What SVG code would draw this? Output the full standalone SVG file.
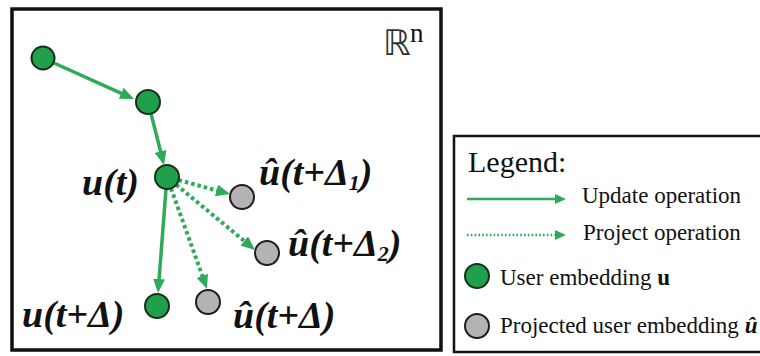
<svg xmlns="http://www.w3.org/2000/svg" width="760" height="356" viewBox="0 0 760 356">
<style>
.frame{fill:#fff;stroke:#111;stroke-width:3.5}
.lframe{fill:#fff;stroke:#111;stroke-width:2.5}
.g{fill:#21a04c;stroke:#15301c;stroke-width:2}
.p{fill:#b3b3b3;stroke:#1e1e1e;stroke-width:2}
.up{fill:none;stroke:#2dab5b;stroke-width:3.5}
.pr{fill:none;stroke:#2dab5b;stroke-width:4;stroke-dasharray:3.5 3}
.lup{fill:none;stroke:#2dab5b;stroke-width:2.5}
.lpr{fill:none;stroke:#2dab5b;stroke-width:2.5;stroke-dasharray:1.6 2.2}
.lab{font-family:"Liberation Serif",serif;font-weight:bold;font-style:italic;font-size:38px;fill:#111}
.sub{font-size:22px}
.leg{font-family:"Liberation Serif",serif;font-size:23px;fill:#111}
.title{font-size:30px}
</style>
<defs>
<marker id="ah" markerUnits="userSpaceOnUse" markerWidth="14" markerHeight="12" refX="5" refY="6" orient="auto" viewBox="0 0 14 12"><path d="M0,0 L14,6 L0,12 z" fill="#2dab5b"/></marker>
<marker id="ahs" markerUnits="userSpaceOnUse" markerWidth="11" markerHeight="10" refX="4" refY="5" orient="auto" viewBox="0 0 11 10"><path d="M0,0 L11,5 L0,10 z" fill="#2dab5b"/></marker>
</defs>
<rect class="frame" x="12" y="9" width="429" height="341"/>
<g id="space-label">
<text x="383" y="55" font-family="DejaVu Sans,sans-serif" font-size="35" fill="#333">ℝ</text>
<text x="410" y="42" font-family="Liberation Serif,serif" font-size="27" fill="#111">n</text>
</g>
<g id="connectors">
<path class="up" d="M54,63 L125.8,95.3" marker-end="url(#ah)"/>
<path class="up" d="M151,113.6 L161.8,156.3" marker-end="url(#ah)"/>
<path class="up" d="M166,189 L158.7,284" marker-end="url(#ah)"/>
<path class="pr" d="M178.6,180.1 L221.3,191.7" marker-end="url(#ah)"/>
<path class="pr" d="M176.2,184.7 L248.1,244.2" marker-end="url(#ah)"/>
<path class="pr" d="M171,188.3 L204,280.5" marker-end="url(#ah)"/>
</g>
<g id="n1"><circle class="g" cx="43" cy="58" r="11.5"/></g>
<g id="n2"><circle class="g" cx="148" cy="102" r="12"/></g>
<g id="ut"><circle class="g" cx="167" cy="177" r="12"/><text class="lab" x="82" y="195">u(t)</text></g>
<g id="utd"><circle class="g" cx="157" cy="306" r="12"/><text class="lab" x="22" y="327">u(t+Δ)</text></g>
<g id="p1"><circle class="p" cx="242" cy="197" r="12"/><text class="lab" x="259" y="185">û(t+Δ<tspan class="sub" dy="5">1</tspan><tspan dy="-5">)</tspan></text></g>
<g id="p2"><circle class="p" cx="267" cy="253" r="12"/><text class="lab" x="288" y="256">û(t+Δ<tspan class="sub" dy="5">2</tspan><tspan dy="-5">)</tspan></text></g>
<g id="p3"><circle class="p" cx="208" cy="302" r="12"/><text class="lab" x="233" y="328">û(t+Δ)</text></g>
<g id="legend">
<rect class="lframe" x="454" y="136" width="320" height="216"/>
<text class="leg title" x="468" y="172">Legend:</text>
<path class="lup" d="M467,199 L559,199" marker-end="url(#ahs)"/>
<text class="leg" x="582" y="203">Update operation</text>
<path class="lpr" d="M467,235 L559,235" marker-end="url(#ahs)"/>
<text class="leg" x="583" y="240">Project operation</text>
<circle class="g" cx="477" cy="276" r="12"/>
<text class="leg" x="500" y="285">User embedding <tspan font-weight="bold">u</tspan></text>
<circle class="p" cx="477" cy="326" r="12"/>
<text class="leg" x="500" y="333">Projected user embedding <tspan font-weight="bold" font-style="italic">û</tspan></text>
</g>
</svg>
